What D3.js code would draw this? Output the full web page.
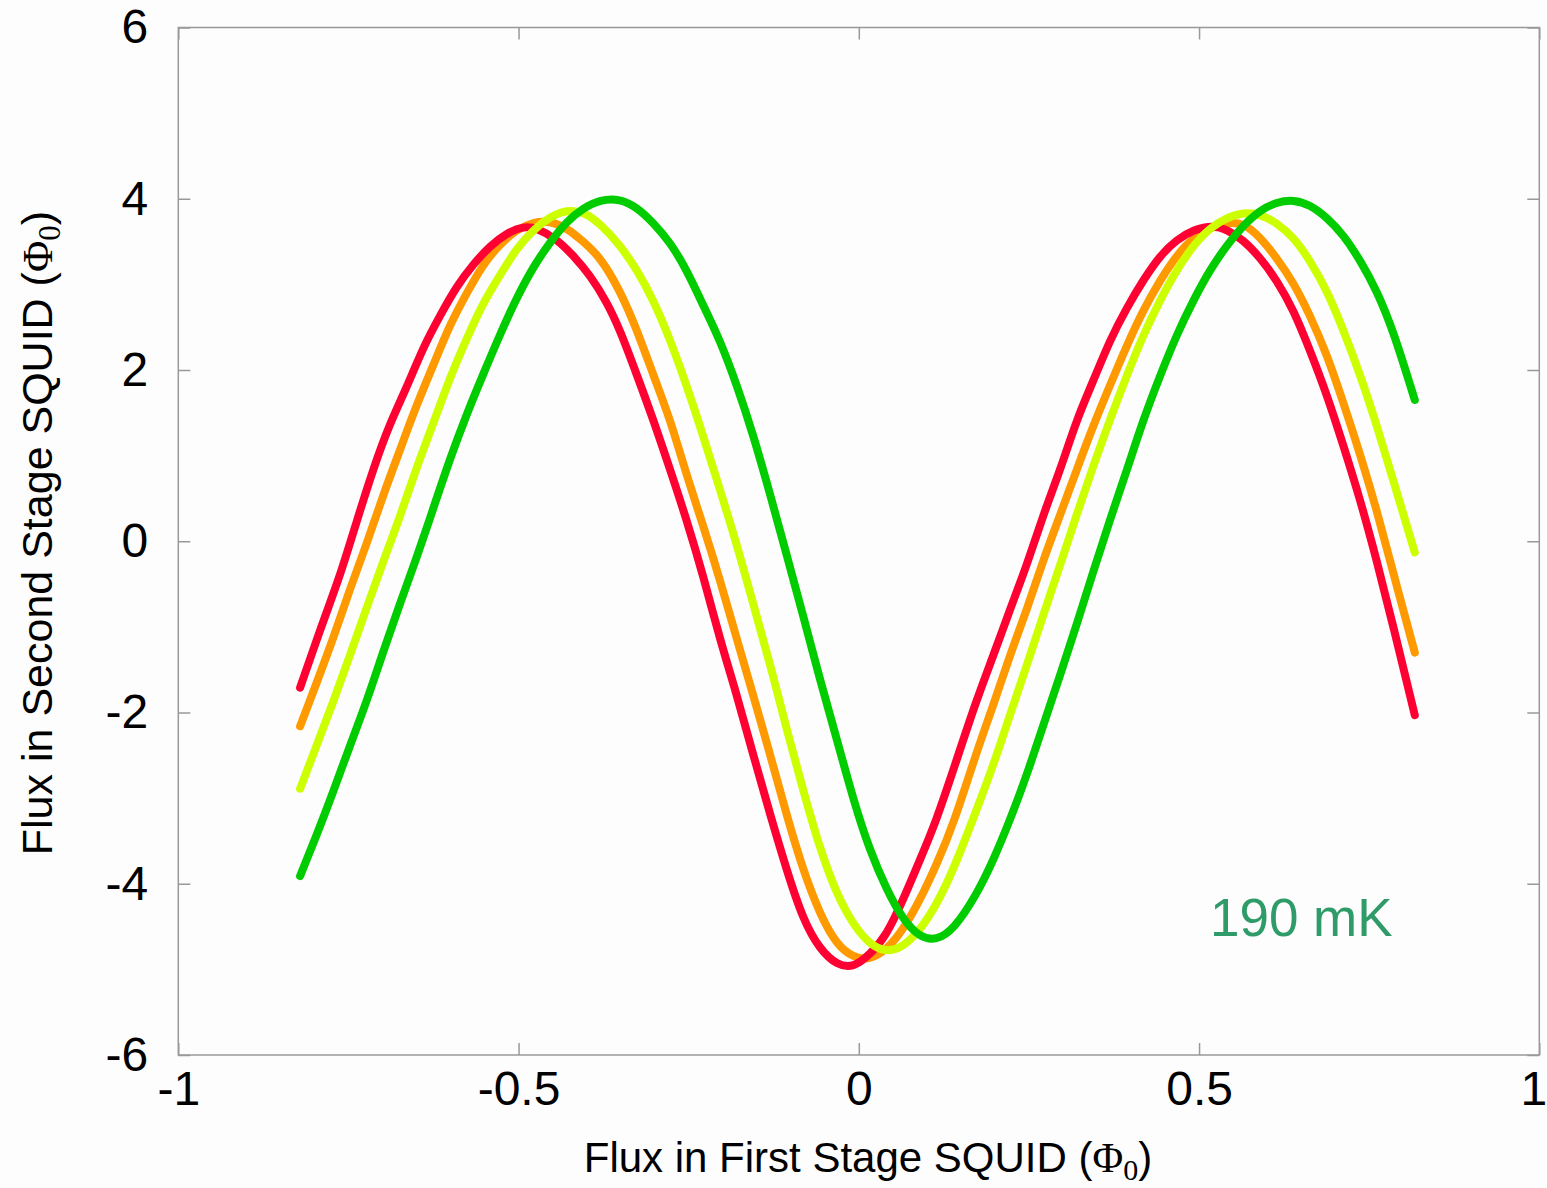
<!DOCTYPE html>
<html>
<head>
<meta charset="utf-8">
<script src="https://cdn.jsdelivr.net/npm/d3@7"></script>
<style>
  body { margin: 0; background: #fdfdfd; }
  svg { display: block; font-family: "Liberation Sans", Arial, sans-serif; }
  .axis path { display: none; }
  .axis line { stroke: #999; stroke-width: 1.5; }
  .axis text { fill: #000; }
</style>
</head>
<body>
<script>
// x positions for the red trace
var redX = [-0.821,-0.787,-0.762,-0.738,-0.713,-0.689,-0.664,-0.640,-0.615,-0.591,-0.566,-0.542,-0.517,-0.493,-0.473,-0.444,-0.420,-0.395,-0.370,-0.351,-0.326,-0.302,-0.277,-0.253,-0.229,-0.204,-0.179,-0.155,-0.130,-0.106,-0.082,-0.057,-0.032,-0.008,0.016,0.041,0.065,0.090,0.114,0.139,0.173,0.198,0.222,0.247,0.271,0.296,0.320,0.345,0.369,0.394,0.418,0.443,0.467,0.492,0.521,0.541,0.565,0.590,0.614,0.639,0.663,0.688,0.712,0.737,0.761,0.785,0.817];
var redY = [-1.71,-0.93,-0.40,0.23,0.86,1.38,1.80,2.27,2.64,2.98,3.24,3.45,3.60,3.68,3.66,3.53,3.34,3.11,2.79,2.47,1.94,1.42,0.83,0.25,-0.39,-1.15,-1.80,-2.50,-3.20,-3.84,-4.42,-4.77,-4.95,-4.98,-4.83,-4.60,-4.19,-3.72,-3.26,-2.67,-1.85,-1.33,-0.80,-0.28,0.31,0.83,1.42,1.88,2.35,2.73,3.05,3.34,3.52,3.64,3.69,3.64,3.52,3.31,3.05,2.70,2.23,1.71,1.12,0.48,-0.22,-0.98,-2.03];

// shared x positions for the other three traces
var gridX = [-0.821,-0.797,-0.772,-0.748,-0.723,-0.699,-0.674,-0.650,-0.625,-0.601,-0.576,-0.552,-0.527,-0.503,-0.478,-0.454,-0.429,-0.405,-0.380,-0.351,-0.326,-0.302,-0.277,-0.253,-0.229,-0.204,-0.179,-0.155,-0.130,-0.106,-0.082,-0.057,-0.032,-0.008,0.016,0.041,0.065,0.090,0.114,0.139,0.173,0.198,0.222,0.247,0.271,0.296,0.320,0.345,0.369,0.394,0.418,0.443,0.467,0.492,0.516,0.541,0.565,0.590,0.614,0.639,0.663,0.688,0.712,0.737,0.761,0.785,0.817];
var orangeY = [-2.16,-1.66,-1.13,-0.56,-0.03,0.54,1.07,1.59,2.06,2.53,2.90,3.24,3.47,3.64,3.73,3.74,3.66,3.50,3.32,2.93,2.47,1.94,1.42,0.77,0.19,-0.45,-1.15,-1.80,-2.50,-3.20,-3.84,-4.36,-4.72,-4.86,-4.89,-4.77,-4.54,-4.19,-3.78,-3.31,-2.46,-1.91,-1.33,-0.80,-0.22,0.31,0.83,1.36,1.82,2.29,2.70,3.05,3.34,3.55,3.66,3.72,3.72,3.55,3.31,3.02,2.64,2.18,1.62,1.01,0.37,-0.36,-1.30];
var yellowY = [-2.89,-2.39,-1.87,-1.34,-0.77,-0.24,0.29,0.86,1.38,1.91,2.37,2.79,3.11,3.42,3.64,3.79,3.87,3.85,3.71,3.46,3.17,2.82,2.35,1.82,1.24,0.60,-0.04,-0.74,-1.44,-2.20,-2.90,-3.60,-4.13,-4.48,-4.71,-4.80,-4.74,-4.54,-4.25,-3.84,-3.14,-2.61,-2.03,-1.45,-0.86,-0.28,0.31,0.89,1.42,1.94,2.41,2.82,3.17,3.46,3.66,3.78,3.84,3.82,3.72,3.55,3.28,2.93,2.47,1.94,1.36,0.72,-0.13];
var greenY = [-3.91,-3.44,-2.92,-2.39,-1.87,-1.29,-0.72,-0.20,0.39,0.96,1.49,1.95,2.42,2.84,3.21,3.49,3.74,3.89,3.99,4.00,3.90,3.72,3.49,3.17,2.76,2.35,1.82,1.24,0.54,-0.16,-0.86,-1.62,-2.32,-3.02,-3.61,-4.07,-4.42,-4.63,-4.66,-4.54,-4.13,-3.72,-3.26,-2.73,-2.15,-1.56,-0.98,-0.34,0.25,0.83,1.42,1.94,2.41,2.82,3.17,3.46,3.69,3.87,3.96,3.99,3.93,3.78,3.58,3.28,2.93,2.47,1.65];

var xTicks = [-1, -0.5, 0, 0.5, 1];
var yTicks = [-6, -4, -2, 0, 2, 4, 6];

var width = 1547, height = 1188;
var margin = { top: 27.5, right: 7.7, bottom: 133, left: 178.3 };
var w = width - margin.left - margin.right;
var h = height - margin.top - margin.bottom;

var svg = d3.select('body')
	.append('svg')
	.attr('width', width)
	.attr('height', height);

var g = svg.append('g')
	.attr('transform', 'translate(' + margin.left + ',' + margin.top + ')');

var x = d3.scaleLinear().domain([-1, 1]).range([0, w]);
var y = d3.scaleLinear().domain([-6, 6]).range([h, 0]);

var fmt = function(d) { return String(d); };

// ticks point inwards on all four sides
var xAxis = g.append('g')
	.attr('class', 'axis')
	.attr('transform', 'translate(0,' + h + ')')
	.call(d3.axisBottom(x).tickValues(xTicks).tickFormat(fmt).tickSize(-12).tickPadding(16));

// keep the last label inside the picture
xAxis.selectAll('.tick text')
	.attr('dx', function(d) { return d === 1 ? -6 : 0; });

g.append('g')
	.attr('class', 'axis')
	.call(d3.axisTop(x).tickValues(xTicks).tickFormat('').tickSize(-12));

g.append('g')
	.attr('class', 'axis')
	.call(d3.axisLeft(y).tickValues(yTicks).tickFormat(fmt).tickSize(-12).tickPadding(30));

g.append('g')
	.attr('class', 'axis')
	.attr('transform', 'translate(' + w + ',0)')
	.call(d3.axisRight(y).tickValues(yTicks).tickFormat('').tickSize(-12));

g.selectAll('.axis text').attr('font-size', 48);

g.append('rect')
	.attr('width', w)
	.attr('height', h)
	.attr('fill', 'none')
	.attr('stroke', '#999')
	.attr('stroke-width', 1.5);

var series = [
	{ name: 'orange', xs: gridX, ys: orangeY, color: '#ff9900' },
	{ name: 'red', xs: redX, ys: redY, color: '#ff0033' },
	{ name: 'yellow', xs: gridX, ys: yellowY, color: '#ccff00' },
	{ name: 'green', xs: gridX, ys: greenY, color: '#00cc00' }
];

var line = d3.line()
	.x(function(d) { return x(d[0]); })
	.y(function(d) { return y(d[1]); })
	.curve(d3.curveBasis);

g.selectAll('path.trace')
	.data(series)
	.enter()
	.append('path')
	.attr('class', 'trace')
	.attr('d', function(d) { return line(d3.zip(d.xs, d.ys)); })
	.attr('fill', 'none')
	.attr('stroke', function(d) { return d.color; })
	.attr('stroke-width', 8)
	.attr('stroke-linecap', 'round')
	.attr('stroke-linejoin', 'round');

g.append('text')
	.attr('x', x(0.516))
	.attr('y', y(-4.61))
	.attr('font-size', 53)
	.attr('fill', '#2e9b68')
	.text('190 mK');

// axis titles
var xt = svg.append('text')
	.attr('x', 868)
	.attr('y', 1172)
	.attr('text-anchor', 'middle')
	.attr('font-size', 42)
	.attr('fill', '#000');
xt.append('tspan').text('Flux in First Stage SQUID (');
xt.append('tspan').attr('font-family', '"Liberation Serif", serif').text('\u03A6');
xt.append('tspan').attr('font-family', '"Liberation Serif", serif').attr('font-size', 30).attr('dy', 8).text('0');
xt.append('tspan').attr('dy', -8).text(')');

var yt = svg.append('text')
	.attr('transform', 'translate(52,533) rotate(-90)')
	.attr('text-anchor', 'middle')
	.attr('font-size', 43)
	.attr('fill', '#000');
yt.append('tspan').text('Flux in Second Stage SQUID (');
yt.append('tspan').attr('font-family', '"Liberation Serif", serif').text('\u03A6');
yt.append('tspan').attr('font-family', '"Liberation Serif", serif').attr('font-size', 31).attr('dy', 8).text('0');
yt.append('tspan').attr('dy', -8).text(')');
</script>
</body>
</html>
